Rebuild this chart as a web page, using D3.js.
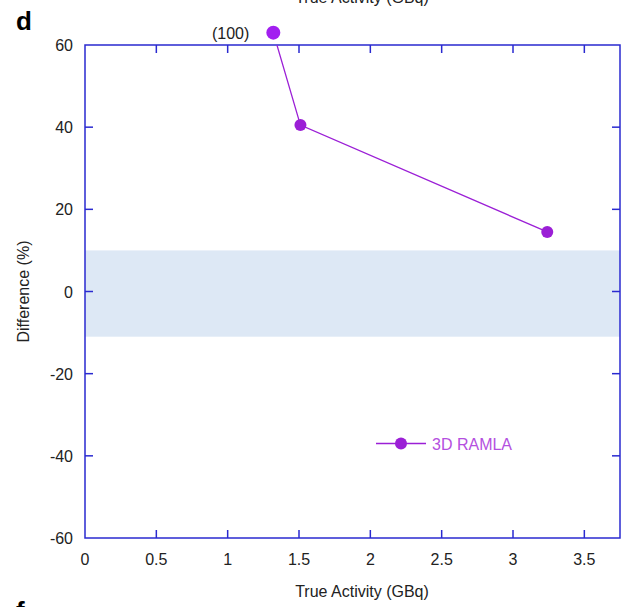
<!DOCTYPE html>
<html>
<head>
<meta charset="utf-8">
<script src="https://cdn.jsdelivr.net/npm/d3@7"></script>
<style>
  body { margin: 0; background: #fff; }
  text { font-family: "Liberation Sans", Arial, sans-serif; }
</style>
</head>
<body>
<svg id="chart" width="625" height="607"></svg>
<script>
// True activity (GBq) vs difference (%); first point is off-scale (100%), drawn at the top edge
var activity = [1.32, 1.51, 3.24];
var difference = [63, 40.5, 14.5];
var offScaleLabel = "(100)";
var xTicks = [0, 0.5, 1, 1.5, 2, 2.5, 3, 3.5];
var yTicks = [-60, -40, -20, 0, 20, 40, 60];
var band = [-11, 10];

var AXIS = "#2a2ad0";
var SERIES = "#9b1fd6";

var svg = d3.select("#chart");
var pLeft = 85, pTop = 45, pRight = 620, pBottom = 538;

var x = d3.scaleLinear().domain([0, 3.75]).range([pLeft, pRight]);
var y = d3.scaleLinear().domain([-60, 60]).range([pBottom, pTop]);

svg.append("defs").append("clipPath").attr("id", "plotclip")
  .append("rect").attr("x", pLeft).attr("y", pTop)
  .attr("width", pRight - pLeft).attr("height", pBottom - pTop);

// tolerance band
svg.append("rect")
  .attr("x", pLeft).attr("width", pRight - pLeft)
  .attr("y", y(band[1])).attr("height", y(band[0]) - y(band[1]))
  .attr("fill", "#dde8f5");

// frame
svg.append("rect")
  .attr("x", pLeft).attr("y", pTop)
  .attr("width", pRight - pLeft).attr("height", pBottom - pTop)
  .attr("fill", "none").attr("stroke", AXIS).attr("stroke-width", 1.5);

// ticks (inward, on all sides)
xTicks.slice(1).forEach(function (t) {
  svg.append("line").attr("x1", x(t)).attr("x2", x(t))
    .attr("y1", pBottom).attr("y2", pBottom - 8).attr("stroke", AXIS).attr("stroke-width", 1.5);
  svg.append("line").attr("x1", x(t)).attr("x2", x(t))
    .attr("y1", pTop).attr("y2", pTop + 8).attr("stroke", AXIS).attr("stroke-width", 1.5);
});
yTicks.slice(1, -1).forEach(function (t) {
  svg.append("line").attr("x1", pLeft).attr("x2", pLeft + 8)
    .attr("y1", y(t)).attr("y2", y(t)).attr("stroke", AXIS).attr("stroke-width", 1.5);
  svg.append("line").attr("x1", pRight).attr("x2", pRight - 8)
    .attr("y1", y(t)).attr("y2", y(t)).attr("stroke", AXIS).attr("stroke-width", 1.5);
});

// tick labels
svg.selectAll(".xl").data(xTicks).enter().append("text")
  .attr("x", function (d) { return x(d); }).attr("y", pBottom + 27)
  .attr("text-anchor", "middle").attr("font-size", 16).attr("fill", "#222")
  .text(function (d) { return d; });
svg.selectAll(".yl").data(yTicks).enter().append("text")
  .attr("x", pLeft - 12).attr("y", function (d) { return y(d) + 6; })
  .attr("text-anchor", "end").attr("font-size", 16).attr("fill", "#222")
  .text(function (d) { return d; });

// axis titles
svg.append("text").attr("x", 362).attr("y", 597)
  .attr("text-anchor", "middle").attr("font-size", 16).attr("fill", "#222")
  .text("True Activity (GBq)");
svg.append("text").attr("transform", "translate(29," + y(0) + ") rotate(-90)")
  .attr("text-anchor", "middle").attr("font-size", 16).attr("fill", "#222")
  .text("Difference (%)");

// cut-off title of panel above & panel letters
svg.append("text").attr("x", 362).attr("y", 3)
  .attr("text-anchor", "middle").attr("font-size", 16).attr("fill", "#222")
  .text("True Activity (GBq)");
svg.append("text").attr("x", 16).attr("y", 30)
  .attr("font-size", 26).attr("font-weight", "bold").text("d");
svg.append("text").attr("x", 16).attr("y", 620)
  .attr("font-size", 26).attr("font-weight", "bold").text("f");

// series
var pts = activity.map(function (a, i) { return [a, difference[i]]; });
svg.append("path").datum(pts)
  .attr("clip-path", "url(#plotclip)")
  .attr("d", d3.line().x(function (d) { return x(d[0]); }).y(function (d) { return y(d[1]); }))
  .attr("fill", "none").attr("stroke", SERIES).attr("stroke-width", 1.3);
svg.selectAll(".pt").data(pts).enter().append("circle")
  .attr("cx", function (d) { return x(d[0]); })
  .attr("cy", function (d) { return y(d[1]); })
  .attr("r", function (d, i) { return i === 0 ? 7 : 6; })
  .attr("fill", function (d, i) { return i === 0 ? "#a21ff0" : SERIES; });
svg.append("text").attr("x", x(activity[0]) - 24).attr("y", y(difference[0]) + 6)
  .attr("text-anchor", "end").attr("font-size", 16).attr("fill", "#222")
  .text(offScaleLabel);

// legend
var ly = y(-37);
svg.append("line").attr("x1", 376).attr("x2", 426).attr("y1", ly).attr("y2", ly)
  .attr("stroke", SERIES).attr("stroke-width", 1.3);
svg.append("circle").attr("cx", 401).attr("cy", ly).attr("r", 6).attr("fill", SERIES);
svg.append("text").attr("x", 432).attr("y", ly + 6)
  .attr("font-size", 16).attr("fill", "#b44fe0").text("3D RAMLA");
</script>
</body>
</html>
